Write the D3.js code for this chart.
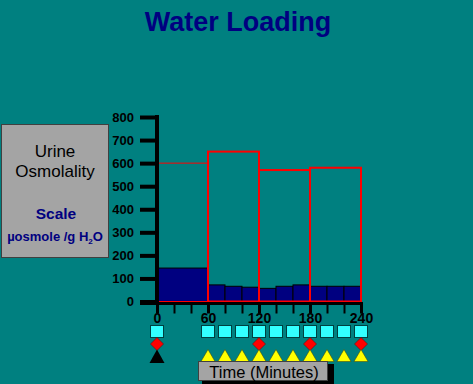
<!DOCTYPE html>
<html>
<head>
<meta charset="utf-8">
<script src="https://cdn.jsdelivr.net/npm/d3@7"></script>
<style>
  body { margin: 0; background: #008080; }
  svg { display: block; font-family: Arial, "Liberation Sans", sans-serif; }
</style>
</head>
<body>
<svg id="chart" width="473" height="384"></svg>
<script>
// chart data
var yTicks = [0, 100, 200, 300, 400, 500, 600, 700, 800];
var xLabels = [0, 60, 120, 180, 240];
var minorTicks = [0, 20, 40, 60, 80, 100, 120, 140, 160, 180, 200, 220, 240];

// red outlined boxes (urine osmolality per hour)
var boxStart = [0, 60, 120, 180];
var boxEnd = [60, 120, 180, 240];
var boxValue = [600, 650, 570, 580];

// dark blue bars
var barStart = [0, 60, 80, 100, 120, 140, 160, 180, 200, 220];
var barEnd = [60, 80, 100, 120, 140, 160, 180, 200, 220, 240];
var barValue = [145, 72, 66, 62, 57, 66, 72, 66, 66, 66];

// marker rows
var squareTimes = [0, 60, 80, 100, 120, 140, 160, 180, 200, 220, 240];
var diamondTimes = [0, 120, 180, 240];
var blackTriTimes = [0];
var yellowTriTimes = [60, 80, 100, 120, 140, 160, 180, 200, 220, 240];

var svg = d3.select("#chart");

var x = d3.scaleLinear().domain([0, 240]).range([157, 361]);
var y = d3.scaleLinear().domain([0, 800]).range([301.5, 117]);

// title
svg.append("text")
    .attr("x", 238).attr("y", 31)
    .attr("text-anchor", "middle")
    .style("font-size", "27px").style("font-weight", "bold")
    .style("fill", "#000080")
    .text("Water Loading");

// left legend box
svg.append("rect")
    .attr("x", 1.5).attr("y", 124.5).attr("width", 107).attr("height", 133)
    .style("fill", "#a4a4a4").style("stroke", "#404040").style("stroke-width", 1);
svg.append("text").attr("x", 55).attr("y", 157).attr("text-anchor", "middle")
    .style("font-size", "17px").style("fill", "#000").text("Urine");
svg.append("text").attr("x", 55).attr("y", 177).attr("text-anchor", "middle")
    .style("font-size", "17px").style("fill", "#000").text("Osmolality");
svg.append("text").attr("x", 56).attr("y", 219).attr("text-anchor", "middle")
    .style("font-size", "15.5px").style("font-weight", "bold").style("fill", "#000080").text("Scale");
var unit = svg.append("text").attr("x", 55).attr("y", 241).attr("text-anchor", "middle")
    .style("font-size", "13px").style("font-weight", "bold").style("fill", "#000080");
unit.append("tspan").text("µosmole /g H");
unit.append("tspan").attr("dy", 3).style("font-size", "8px").text("2");
unit.append("tspan").attr("dy", -3).text("O");

// bars
var bars = d3.range(barValue.length).map(function(i) {
    return {s: barStart[i], e: barEnd[i], v: barValue[i]};
});
svg.append("g").selectAll("rect")
    .data(bars).enter().append("rect")
    .attr("x", function(d) { return x(d.s); })
    .attr("y", function(d) { return y(d.v); })
    .attr("width", function(d) { return x(d.e) - x(d.s); })
    .attr("height", function(d) { return y(0) - y(d.v); })
    .style("fill", "#000080")
    .style("stroke", "#000").style("stroke-width", 1);

// red boxes
var boxes = d3.range(boxValue.length).map(function(i) {
    return {s: boxStart[i], e: boxEnd[i], v: boxValue[i], i: i};
});
svg.append("g").selectAll("rect")
    .data(boxes).enter().append("rect")
    .attr("x", function(d) { return x(d.s); })
    .attr("y", function(d) { return y(d.v); })
    .attr("width", function(d) { return x(d.e) - x(d.s); })
    .attr("height", function(d) { return y(0) - y(d.v); })
    .style("fill", "none")
    .style("stroke", "#ff0000")
    .style("stroke-width", function(d) { return d.i == 0 ? 1 : 2; });

// y axis
var yAxis = d3.axisLeft(y).tickValues(yTicks).tickSize(17).tickPadding(6);
var gy = svg.append("g").attr("transform", "translate(157,0)").call(yAxis);
gy.select(".domain").remove();
gy.selectAll(".tick line").style("stroke", "#000").style("stroke-width", 4);
gy.selectAll(".tick text")
    .style("font-size", "13px").style("font-weight", "bold")
    .style("font-family", "Arial, 'Liberation Sans', sans-serif").style("fill", "#000");
svg.append("line")
    .attr("x1", 157).attr("x2", 157).attr("y1", y(800) - 2).attr("y2", y(0) + 3)
    .style("stroke", "#000").style("stroke-width", 4);

// x axis
svg.append("line")
    .attr("x1", 140).attr("x2", x(240) + 2).attr("y1", y(0) + 2).attr("y2", y(0) + 2)
    .style("stroke", "#000").style("stroke-width", 3);
var xAxis = d3.axisBottom(x).tickValues(minorTicks).tickSize(10)
    .tickFormat(function(d) { return xLabels.indexOf(d) >= 0 ? d : ""; });
var gx = svg.append("g").attr("transform", "translate(0," + (y(0) + 2) + ")").call(xAxis);
gx.select(".domain").remove();
gx.selectAll(".tick line")
    .style("stroke", "#000")
    .style("stroke-width", function(d) { return xLabels.indexOf(d) >= 0 ? 3 : 2; });
gx.selectAll(".tick text")
    .attr("y", 10)
    .style("font-size", "14px").style("font-weight", "bold")
    .style("font-family", "Arial, 'Liberation Sans', sans-serif").style("fill", "#000");

// marker rows
svg.append("g").selectAll("rect")
    .data(squareTimes).enter().append("rect")
    .attr("x", function(d) { return x(d) - 6.5; })
    .attr("y", 325.5).attr("width", 13).attr("height", 12)
    .style("fill", "#33ffff").style("stroke", "#004040").style("stroke-width", 1);

svg.append("g").selectAll("path")
    .data(diamondTimes).enter().append("path")
    .attr("transform", function(d) { return "translate(" + x(d) + ",344)"; })
    .attr("d", "M0,-6.5L6.5,0L0,6.5L-6.5,0Z")
    .style("fill", "#ff0000").style("stroke", "#600000").style("stroke-width", 0.5);

svg.append("g").selectAll("path")
    .data(blackTriTimes).enter().append("path")
    .attr("transform", function(d) { return "translate(" + x(d) + ",0)"; })
    .attr("d", "M0,349.5L7.5,363L-7.5,363Z")
    .style("fill", "#000");

svg.append("g").selectAll("path")
    .data(yellowTriTimes).enter().append("path")
    .attr("transform", function(d) { return "translate(" + x(d) + ",0)"; })
    .attr("d", "M0,349.5L7,361.5L-7,361.5Z")
    .style("fill", "#ffff00").style("stroke", "#404000").style("stroke-width", 0.5);

// x axis title box
svg.append("rect")
    .attr("x", 202).attr("y", 364).attr("width", 132).attr("height", 20)
    .style("fill", "#000");
svg.append("rect")
    .attr("x", 198.5).attr("y", 361.5).attr("width", 129).attr("height", 19)
    .style("fill", "#a4a4a4").style("stroke", "#404040").style("stroke-width", 1);
svg.append("text")
    .attr("x", 264).attr("y", 377.5).attr("text-anchor", "middle")
    .style("font-size", "16.5px").style("fill", "#000")
    .text("Time (Minutes)");
</script>
</body>
</html>
